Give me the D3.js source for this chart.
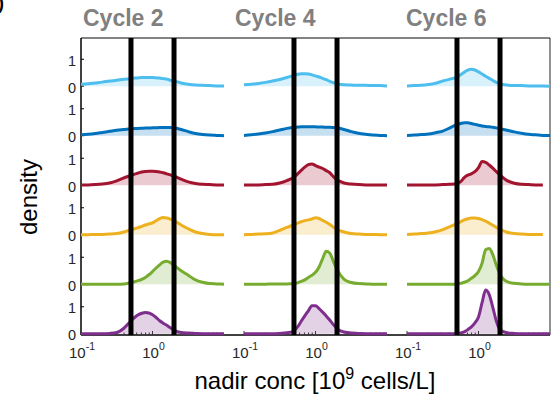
<!DOCTYPE html>
<html><head><meta charset="utf-8">
<script src="https://cdn.jsdelivr.net/npm/d3@7"></script>
<style>
html,body{margin:0;padding:0;background:#fff;}
svg{display:block;font-family:"Liberation Sans",Arial,Helvetica,sans-serif;}
</style>
</head><body>
<svg id="chart" width="557" height="396"></svg>
<script>
// Evaluation grid: log10 of nadir concentration [10^9 cells/L]
const logGrid = [-1,-0.9,-0.8,-0.7,-0.6,-0.5,-0.4,-0.3,-0.25,-0.2,-0.15,-0.1,-0.05,0,0.05,0.1,0.15,0.2,0.25,0.3,0.4,0.5,0.6,0.7,0.8,0.9,1];

const cycleTitles = ["Cycle 2", "Cycle 4", "Cycle 6"];

// Density estimates, one row per arm (top to bottom); null = outside support
const cycle2 = [
  [0.07,0.09,0.12,0.15,0.19,0.22,0.26,0.28,0.30,0.31,0.32,0.32,0.32,0.32,0.31,0.30,0.28,0.26,0.22,0.19,0.12,0.07,0.04,0.03,0.02,0.01,0.01],
  [0.03,0.05,0.08,0.12,0.16,0.20,0.23,0.26,0.265,0.27,0.275,0.28,0.285,0.29,0.295,0.30,0.30,0.30,0.30,0.29,0.23,0.15,0.08,0.04,0.02,0.01,0],
  [0.01,0.01,0.02,0.04,0.08,0.16,0.27,0.37,0.41,0.45,0.49,0.51,0.52,0.52,0.51,0.49,0.46,0.42,0.38,0.34,0.22,0.12,0.06,0.03,0.02,0.01,0.01],
  [0,0,0.01,0.01,0.02,0.04,0.10,0.19,0.22,0.26,0.31,0.36,0.40,0.44,0.52,0.60,0.64,0.62,0.58,0.52,0.36,0.22,0.10,0.04,0.01,0,0],
  [0,0,0,0,0,0,0.01,0.06,0.09,0.13,0.18,0.25,0.35,0.47,0.60,0.72,0.82,0.85,0.80,0.70,0.50,0.33,0.16,0.07,0.02,0.01,0],
  [0,0,0,0,0.01,0.04,0.20,0.48,0.60,0.70,0.76,0.79,0.77,0.70,0.60,0.48,0.39,0.31,0.22,0.13,0.04,0.02,0.01,0,0,0,0]
];
const cycle4 = [
  [0.05,0.07,0.10,0.14,0.19,0.25,0.32,0.40,0.44,0.46,0.46,0.45,0.42,0.38,0.34,0.29,0.24,0.18,0.13,0.09,0.05,0.04,0.03,0.03,0.02,0.02,0.01],
  [0.01,0.03,0.06,0.10,0.15,0.21,0.27,0.31,0.32,0.33,0.33,0.33,0.33,0.33,0.32,0.32,0.31,0.31,0.30,0.29,0.23,0.15,0.09,0.05,0.02,0.01,0],
  [0.01,0.01,0.01,0.02,0.03,0.08,0.17,0.30,0.42,0.55,0.67,0.76,0.79,0.73,0.67,0.62,0.54,0.46,0.32,0.20,0.08,0.04,0.02,0.01,0.01,0.01,0.01],
  [0,0.01,0.02,0.03,0.06,0.16,0.27,0.37,0.43,0.48,0.52,0.55,0.58,0.63,0.60,0.53,0.46,0.38,0.28,0.19,0.10,0.04,0.02,0.01,0.01,0,0],
  [0,0,0,0,0.01,0.01,0.01,0.02,0.05,0.10,0.16,0.25,0.33,0.44,0.64,0.95,1.22,1.15,0.85,0.55,0.18,0.06,0.02,0.01,0,0,0],
  [0,0,0,0,0,0.01,0.03,0.11,0.25,0.46,0.66,0.85,1.04,1.04,0.93,0.80,0.66,0.50,0.34,0.19,0.06,0.02,0.01,0,0,0,0]
];
const cycle6 = [
  [0.01,0.02,0.03,0.06,0.11,0.19,0.26,0.34,0.42,0.52,0.60,0.63,0.60,0.53,0.45,0.37,0.29,0.21,0.14,0.09,0.04,0.02,0.02,0.01,0.01,0.01,0],
  [0.01,0.02,0.04,0.06,0.11,0.17,0.29,0.41,0.45,0.48,0.48,0.45,0.42,0.39,0.36,0.34,0.33,0.31,0.29,0.26,0.20,0.14,0.09,0.05,0.03,0.01,0.01],
  [0.01,0.01,0.01,0.01,0.01,0.02,0.03,0.06,0.13,0.28,0.37,0.42,0.50,0.65,0.88,0.85,0.75,0.63,0.50,0.38,0.17,0.07,0.03,0.02,0.01,0.01,null],
  [0.01,0.02,0.04,0.06,0.11,0.19,0.30,0.41,0.48,0.55,0.59,0.62,0.62,0.60,0.56,0.50,0.43,0.35,0.27,0.20,0.09,0.04,0.02,0.01,0.01,0.01,null],
  [0,0,0,0,0,0,0,0.01,0.03,0.07,0.12,0.22,0.32,0.47,0.78,1.28,1.33,1.10,0.70,0.37,0.09,0.03,0.01,0,0,0,0],
  [0,0,0,0,0,0,0,0.01,0.03,0.07,0.15,0.25,0.40,0.62,1.15,1.62,1.45,0.98,0.46,0.15,0.03,0.01,0,0,0,0,0]
];
const cycleData = [cycle2, cycle4, cycle6];

// Reference band limits [10^9 cells/L]
const thresholds = [0.5, 2];

const xTickValues = [0.1, 1];
const xTickExponents = ["-1", "0"];
const yTickValues = [0, 1];

const rowColors = ["#4DBEEE", "#0072BD", "#A2142F", "#EDB120", "#77AC30", "#7E2F8E"];

// ---- layout ----
const svg = d3.select("#chart");
const plotTop = 38, plotBottom = 335, plotLeft = 81, plotRight = 550;
const panelLeft = [81, 244, 407];
const panelWidth = 143;
const titleX = [83, 235, 406];
const nRows = 6;
const rowH = (plotBottom - plotTop) / nRows;

const x = d3.scaleLog().domain([0.1, 10]).range([0, panelWidth]);
const yFor = i => d3.scaleLinear().domain([-0.05, 1.79])
  .range([plotTop + rowH * (i + 1), plotTop + rowH * i]);

// frame
svg.append("line").attr("x1", plotLeft).attr("x2", plotRight)
  .attr("y1", plotTop).attr("y2", plotTop)
  .attr("stroke", "#5a5a5a").attr("stroke-width", 1.6);
svg.append("line").attr("x1", plotRight).attr("x2", plotRight)
  .attr("y1", plotTop).attr("y2", plotBottom)
  .attr("stroke", "#222").attr("stroke-width", 1);
svg.append("line").attr("x1", plotLeft).attr("x2", plotLeft)
  .attr("y1", plotTop).attr("y2", plotBottom)
  .attr("stroke", "#000").attr("stroke-width", 1.5);
svg.append("line").attr("x1", plotLeft).attr("x2", plotRight)
  .attr("y1", plotBottom).attr("y2", plotBottom)
  .attr("stroke", "#000").attr("stroke-width", 1.5);

// y ticks and labels (left column only)
for (let i = 0; i < nRows; i++) {
  const y = yFor(i);
  const g = svg.append("g");
  yTickValues.forEach(v => {
    g.append("line").attr("x1", plotLeft).attr("x2", plotLeft + 3)
      .attr("y1", y(v)).attr("y2", y(v)).attr("stroke", "#000").attr("stroke-width", 1);
    g.append("text").attr("x", plotLeft - 5).attr("y", y(v) + 1.5)
      .attr("text-anchor", "end").attr("dominant-baseline", "central")
      .attr("font-size", 14.5).attr("fill", "#262626").text(v);
  });
}

// panels
cycleData.forEach((rows, p) => {
  const g = svg.append("g").attr("transform", `translate(${panelLeft[p]},0)`);

  // x ticks (major + minor), pointing inward
  const minor = [];
  [0.1, 1].forEach(d => { for (let k = 2; k <= 9; k++) minor.push(d * k); });
  g.selectAll(".minor").data(minor).join("line")
    .attr("x1", d => x(d)).attr("x2", d => x(d))
    .attr("y1", plotBottom).attr("y2", plotBottom - 2.5)
    .attr("stroke", "#333").attr("stroke-width", 1);
  g.selectAll(".major").data(xTickValues).join("line")
    .attr("x1", d => x(d)).attr("x2", d => x(d))
    .attr("y1", plotBottom).attr("y2", plotBottom - 4)
    .attr("stroke", "#333").attr("stroke-width", 1);

  rows.forEach((vals, i) => {
    const y = yFor(i);
    const pts = logGrid.map((e, j) => ({ c: Math.pow(10, e), v: vals[j] }));
    const area = d3.area().defined(d => d.v !== null)
      .x(d => x(d.c)).y0(y(0)).y1(d => y(d.v)).curve(d3.curveMonotoneX);
    const line = d3.line().defined(d => d.v !== null)
      .x(d => x(d.c)).y(d => y(d.v)).curve(d3.curveMonotoneX);
    g.append("path").datum(pts).attr("d", area)
      .attr("fill", rowColors[i]).attr("fill-opacity", 0.22).attr("stroke", "none");
    g.append("path").datum(pts).attr("d", line)
      .attr("fill", "none").attr("stroke", rowColors[i])
      .attr("stroke-width", 3).attr("stroke-linejoin", "round");
  });

  // reference band limits
  g.selectAll(".thr").data(thresholds).join("line")
    .attr("x1", d => x(d)).attr("x2", d => x(d))
    .attr("y1", plotTop).attr("y2", plotBottom)
    .attr("stroke", "#000").attr("stroke-width", 5);

  // x tick labels
  xTickValues.forEach((v, k) => {
    const t = g.append("text").attr("x", x(v) + 1).attr("y", 358)
      .attr("text-anchor", "middle").attr("font-size", 15).attr("fill", "#262626");
    t.append("tspan").text("10");
    t.append("tspan").attr("dy", -8).attr("font-size", 10.5).text(xTickExponents[k]);
  });

  // panel title
  svg.append("text").attr("x", titleX[p]).attr("y", 26)
    .attr("font-size", 23).attr("font-weight", "bold").attr("fill", "#808080")
    .text(cycleTitles[p]);
});

// axis labels
const xl = svg.append("text").attr("x", 315).attr("y", 389)
  .attr("text-anchor", "middle").attr("font-size", 24).attr("fill", "#000");
xl.append("tspan").text("nadir conc [10");
xl.append("tspan").attr("dy", -10).attr("font-size", 16).text("9");
xl.append("tspan").attr("dy", 10).text(" cells/L]");

svg.append("text").attr("transform", "translate(37,197) rotate(-90)")
  .attr("text-anchor", "middle").attr("font-size", 24).attr("fill", "#000")
  .text("density");

// panel letter at the figure's top-left edge
svg.append("text").attr("x", -2).attr("y", 9)
  .attr("font-size", 18).attr("font-weight", "bold").attr("fill", "#000").text(")");
</script>
</body></html>
